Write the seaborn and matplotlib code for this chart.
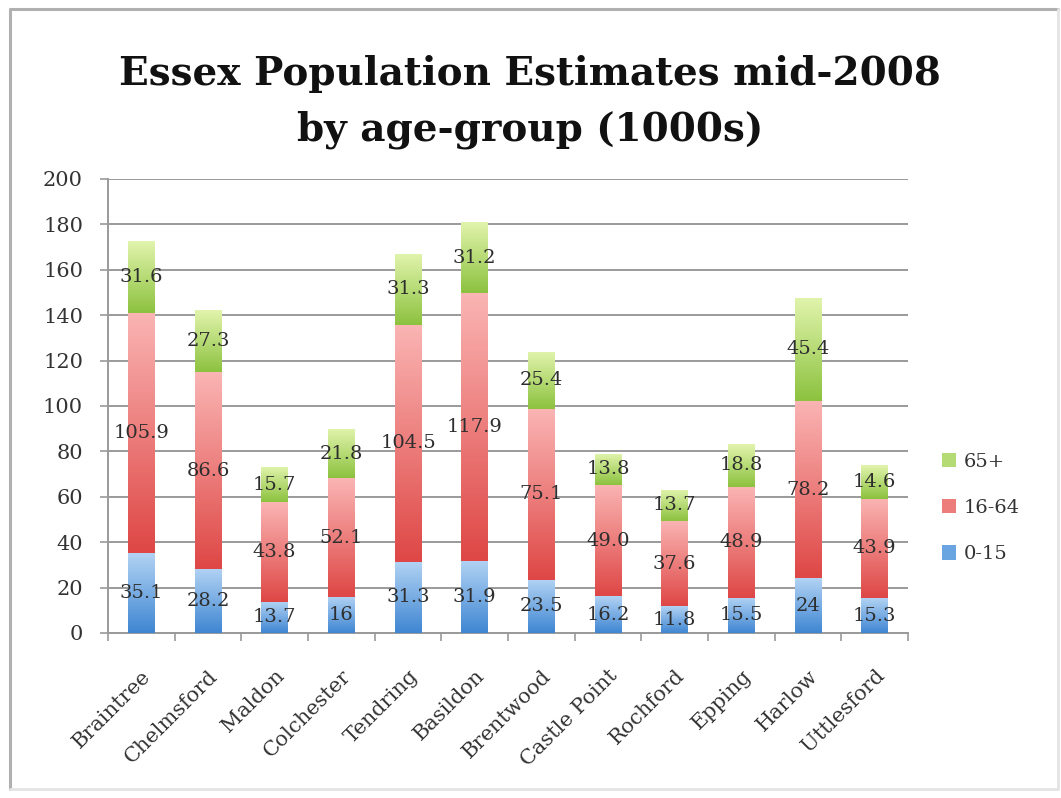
import numpy as np
import matplotlib
matplotlib.use("Agg")
import matplotlib.pyplot as plt
from matplotlib.colors import LinearSegmentedColormap
from matplotlib.patches import Patch
from matplotlib.lines import Line2D
import seaborn as sns

districts = ["Braintree", "Chelmsford", "Maldon", "Colchester", "Tendring", "Basildon",
             "Brentwood", "Castle Point", "Rochford", "Epping", "Harlow", "Uttlesford"]
age_0_15 = [35.1, 28.2, 13.7, 16, 31.3, 31.9, 23.5, 16.2, 11.8, 15.5, 24, 15.3]
age_16_64 = [105.9, 86.6, 43.8, 52.1, 104.5, 117.9, 75.1, 49.0, 37.6, 48.9, 78.2, 43.9]
age_65_plus = [31.6, 27.3, 15.7, 21.8, 31.3, 31.2, 25.4, 13.8, 13.7, 18.8, 45.4, 14.6]
label_0_15 = ["35.1", "28.2", "13.7", "16", "31.3", "31.9", "23.5", "16.2", "11.8", "15.5", "24", "15.3"]
label_16_64 = ["105.9", "86.6", "43.8", "52.1", "104.5", "117.9", "75.1", "49.0", "37.6", "48.9", "78.2", "43.9"]
label_65_plus = ["31.6", "27.3", "15.7", "21.8", "31.3", "31.2", "25.4", "13.8", "13.7", "18.8", "45.4", "14.6"]
y_ticks = [0, 20, 40, 60, 80, 100, 120, 140, 160, 180, 200]

series = [
    ("0-15", age_0_15, label_0_15, ("#3f86d2", "#b2d3f4"), "#6aa5e2"),
    ("16-64", age_16_64, label_16_64, ("#de4745", "#fab5b4"), "#ec7d7b"),
    ("65+", age_65_plus, label_65_plus, ("#8cc23f", "#e2f4ad"), "#b5dc74"),
]

sns.set_theme(style="white")
plt.rcParams["font.family"] = ["DejaVu Serif"]

fig = plt.figure(figsize=(10.61, 7.98), dpi=100)
ax = fig.add_axes([0.1018, 0.2068, 0.7540, 0.5689])

bottom = np.zeros(len(districts))
for name, vals, labels, (dark, light), mid in series:
    vals = np.asarray(vals, dtype=float)
    n_before = len(ax.patches)
    sns.barplot(x=districts, y=vals, bottom=bottom, color=mid, width=0.4,
                saturation=1, linewidth=0, ax=ax, zorder=3)
    new_patches = ax.patches[n_before:]
    cmap = LinearSegmentedColormap.from_list(name, [dark, light])
    grad = np.linspace(0, 1, 256).reshape(-1, 1)
    for p in new_patches:
        x0, y0 = p.get_x(), p.get_y()
        w, h = p.get_width(), p.get_height()
        im = ax.imshow(grad, cmap=cmap, aspect="auto", origin="lower",
                       extent=(x0, x0 + w, y0, y0 + h), zorder=3.5,
                       interpolation="bilinear")
        im.set_clip_path(p)
    for i, (v, lab) in enumerate(zip(vals, labels)):
        ax.text(i, bottom[i] + v / 2, lab, ha="center", va="center",
                fontsize=14, color="#2e2e2e", zorder=5)
    bottom = bottom + vals

ax.set_xlim(-0.5, len(districts) - 0.5)
ax.set_ylim(0, 200)
ax.set_yticks(y_ticks)
ax.set_yticklabels([str(t) for t in y_ticks], fontsize=15, color="#333333")
ax.yaxis.grid(True, color="#9a9a9a", linewidth=1.4, zorder=0)
ax.set_axisbelow(True)

ax.set_xticks(range(len(districts)))
ax.set_xticklabels(districts, rotation=45, ha="right", rotation_mode="anchor",
                   fontsize=15, color="#333333")
ax.set_xticks(np.arange(-0.5, len(districts)), minor=True)
ax.tick_params(axis="x", which="major", length=0, pad=24)
ax.tick_params(axis="x", which="minor", length=6, width=1.2, color="#9a9a9a", bottom=True)
ax.tick_params(axis="y", which="major", length=6, width=1.2, color="#9a9a9a", left=True, pad=12)
ax.set_xlabel("")
ax.set_ylabel("")

for side in ["top", "right"]:
    ax.spines[side].set_visible(False)
for side in ["left", "bottom"]:
    ax.spines[side].set_color("#9a9a9a")
    ax.spines[side].set_linewidth(1.4)

handles = [Patch(facecolor=s[4], edgecolor="none", label=s[0]) for s in series][::-1]
fig.legend(handles=handles, loc="center left", bbox_to_anchor=(0.871, 0.3634),
           frameon=False, fontsize=14, handlelength=0.75, handleheight=0.75,
           handletextpad=0.4, labelspacing=1.45, labelcolor="#333333")

fig.text(0.4995, 0.872, "Essex Population Estimates mid-2008\nby age-group (1000s)",
         ha="center", va="center", fontsize=28, fontweight="bold", color="#111111",
         linespacing=1.6)

# chart frame: darker top/left edges, faint right/bottom edges
fig.lines.append(Line2D([0.0094, 0.0094, 0.997], [0.011, 0.989, 0.989],
                        transform=fig.transFigure, color="#b0b0b0", linewidth=2.2))
fig.lines.append(Line2D([0.0094, 0.997, 0.997], [0.011, 0.011, 0.989],
                        transform=fig.transFigure, color="#e4e4e4", linewidth=2))

fig.savefig("out.png", dpi=100)
